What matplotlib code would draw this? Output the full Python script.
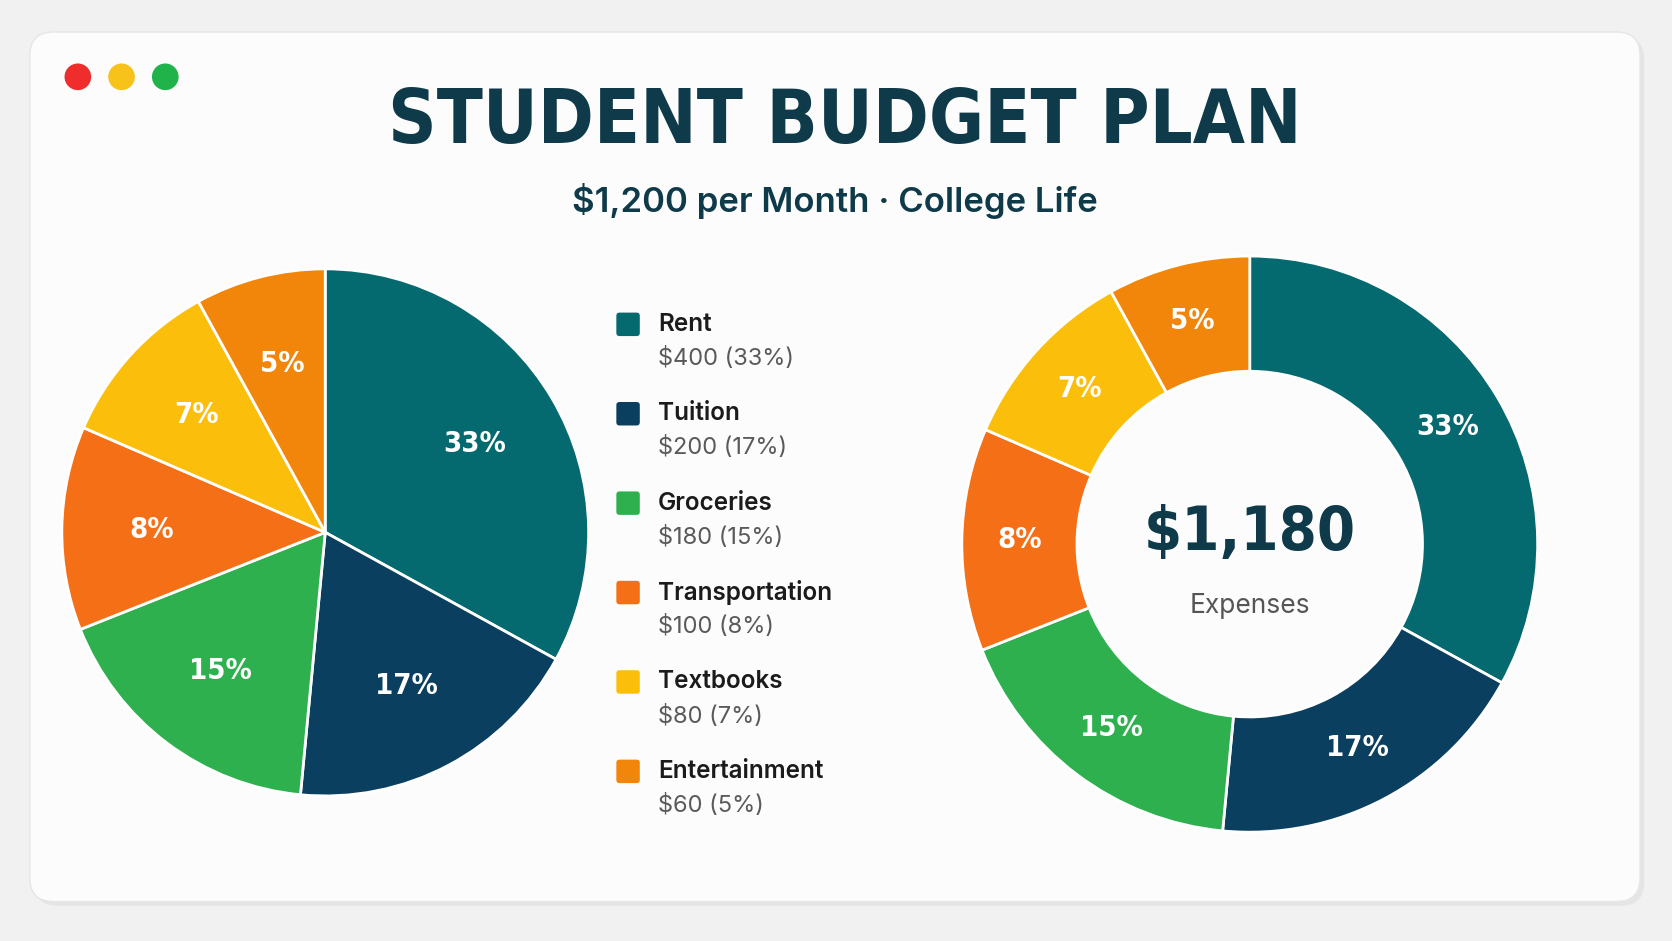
import matplotlib
matplotlib.use("Agg")
import matplotlib.pyplot as plt
from matplotlib.patches import FancyBboxPatch, Circle
from matplotlib import font_manager

categories = ["Rent", "Tuition", "Groceries", "Transportation", "Textbooks", "Entertainment"]
amounts = ["$400", "$200", "$180", "$100", "$80", "$60"]
pct_labels = ["33%", "17%", "15%", "8%", "7%", "5%"]
slice_shares = [33, 18.5, 17.5, 12.5, 10.5, 8]   # wedge sizes as drawn
colors = ["#056a6f", "#0b3f5f", "#2fb04f", "#f56f16", "#fbbf0b", "#f2860a"]
total_label = "$1,180"

has_cond = any(f.name == "DejaVu Sans" and "condensed" in str(f.stretch) for f in font_manager.fontManager.ttflist)
k = 1.0 if has_cond else 0.9
cond = dict(family=["DejaVu Sans"], fontstretch="condensed")
plt.rcParams['font.family'] = ['Inter', 'DejaVu Sans']

W, H = 1568, 882
fig = plt.figure(figsize=(16.72, 9.41), dpi=100)
fig.patch.set_facecolor("#f1f1f1")
ax = fig.add_axes([0, 0, 1, 1])
ax.set_xlim(0, W); ax.set_ylim(0, H); ax.axis("off")

def Y(y): return H - y

ax.add_patch(FancyBboxPatch((32, Y(849)), 1510, 815, boxstyle="round,pad=0,rounding_size=22",
                            fc="#dddddd", ec="none", zorder=0, alpha=0.6))
ax.add_patch(FancyBboxPatch((28, Y(845)), 1510, 815, boxstyle="round,pad=0,rounding_size=22",
                            fc="#fcfcfc", ec="#e6e6e6", lw=1, zorder=1))
for x, c in [(73, "#f02d2d"), (114, "#f7c21a"), (155, "#1fb34a")]:
    ax.add_patch(Circle((x, Y(72)), 12.5, fc=c, ec="none", zorder=2))

dark = "#0e3a49"
ax.text(792, Y(115), "STUDENT BUDGET PLAN", ha="center", va="center", fontsize=54 * k,
        fontweight="bold", color=dark, zorder=3, **cond)
ax.text(783, Y(188), "$1,200 per Month · College Life", ha="center", va="center",
        fontsize=25, fontweight="semibold", color=dark, zorder=3)

lbl_font = dict(color="white", fontsize=21 * k, fontweight="bold", **cond)
w1, t1 = ax.pie(slice_shares, colors=colors, startangle=90, counterclock=False,
                center=(305, Y(499)), radius=247, labels=pct_labels, labeldistance=0.66,
                wedgeprops=dict(ec="white", lw=2), textprops=lbl_font, frame=True)
for t in t1:
    t.set_ha("center"); t.set_va("center")

w2, t2 = ax.pie(slice_shares, colors=colors, startangle=90, counterclock=False,
                center=(1172, Y(510)), radius=270, labels=pct_labels, labeldistance=0.8,
                wedgeprops=dict(ec="white", lw=2, width=108), textprops=lbl_font, frame=True)
for t in t2:
    t.set_ha("center"); t.set_va("center")
ax.set_xlim(0, W); ax.set_ylim(0, H); ax.set_aspect("auto"); ax.axis("off")

ax.text(1172, Y(500), total_label, ha="center", va="center", fontsize=44 * k, fontweight="bold",
        color=dark, zorder=5, **cond)
ax.text(1172, Y(568), "Expenses", ha="center", va="center", fontsize=19, color="#555555", zorder=5)

for i, (cat, amt, p) in enumerate(zip(categories, amounts, pct_labels)):
    y = 304 + i * 83.8
    ax.add_patch(FancyBboxPatch((578, Y(y) - 11), 22, 22, boxstyle="round,pad=0,rounding_size=3",
                                fc=colors[i], ec="none", zorder=3))
    ax.text(617, Y(y), cat, ha="left", va="center", fontsize=17.5, fontweight="semibold",
            color="#1b1b1b", zorder=3)
    ax.text(617, Y(y + 32), f"{amt} ({p.replace('%', '')}%)", ha="left", va="center",
            fontsize=17, color="#5a5a5a", zorder=3)

fig.savefig("out.png", dpi=100, facecolor=fig.get_facecolor())
